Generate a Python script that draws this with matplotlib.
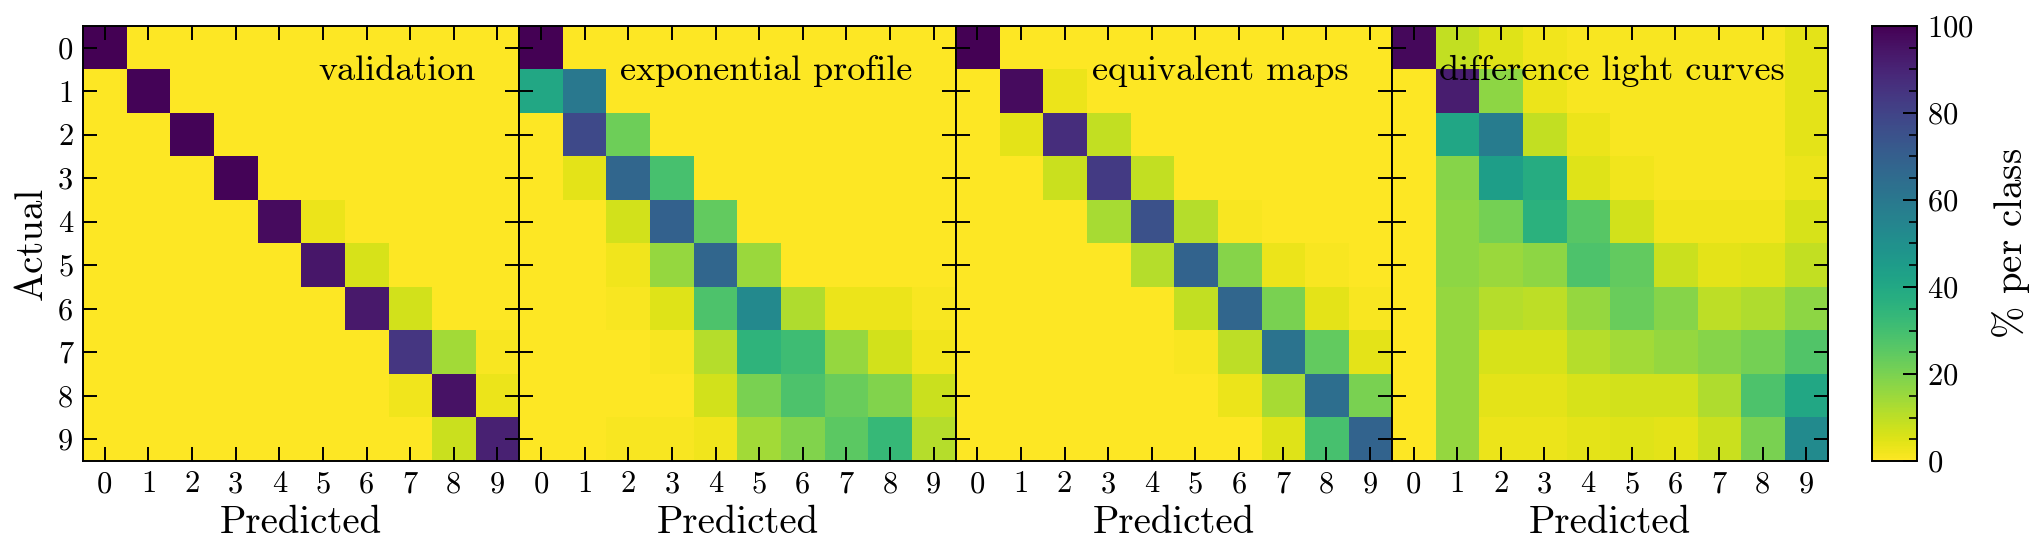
import numpy as np
import matplotlib
matplotlib.use("Agg")
import matplotlib.pyplot as plt
from matplotlib.ticker import MultipleLocator

plt.rcParams['font.family'] = 'serif'
plt.rcParams['font.serif'] = ['cmr10']
plt.rcParams['mathtext.fontset'] = 'cm'
plt.rcParams['axes.formatter.use_mathtext'] = True

classes = [str(i) for i in range(10)]
titles = ["validation", "exponential profile", "equivalent maps", "difference light curves"]

validation = [
    [100, 0, 0, 0, 0, 0, 0, 0, 0, 0],
    [0, 99, 0, 0, 0, 0, 0, 0, 0, 0],
    [0, 0, 99, 0, 0, 0, 0, 0, 0, 0],
    [0, 0, 0, 99, 0, 0, 0, 0, 0, 0],
    [0, 0, 0, 0, 97, 3, 0, 0, 0, 0],
    [0, 0, 0, 0, 0, 94, 6, 0, 0, 0],
    [0, 0, 0, 0, 0, 0, 93, 7, 0, 0],
    [0, 0, 0, 0, 0, 0, 0, 84, 14, 1],
    [0, 0, 0, 0, 0, 0, 0, 2, 95, 3],
    [0, 0, 0, 0, 0, 0, 0, 0, 8, 91],
]

exponential = [
    [100, 0, 0, 0, 0, 0, 0, 0, 0, 0],
    [40, 60, 0, 0, 0, 0, 0, 0, 0, 0],
    [0, 78, 22, 0, 0, 0, 0, 0, 0, 0],
    [0, 4, 67, 29, 0, 0, 0, 0, 0, 0],
    [0, 0, 7, 69, 24, 0, 0, 0, 0, 0],
    [0, 0, 2, 16, 67, 15, 0, 0, 0, 0],
    [0, 0, 1, 5, 28, 53, 12, 3, 3, 1],
    [0, 0, 0, 1, 11, 35, 31, 16, 7, 2],
    [0, 0, 0, 0, 7, 20, 28, 23, 19, 8],
    [0, 0, 1, 1, 2, 14, 19, 25, 33, 11],
]

equivalent = [
    [100, 0, 0, 0, 0, 0, 0, 0, 0, 0],
    [0, 97, 3, 0, 0, 0, 0, 0, 0, 0],
    [0, 4, 87, 9, 0, 0, 0, 0, 0, 0],
    [0, 0, 8, 83, 9, 0, 0, 0, 0, 0],
    [0, 0, 0, 13, 75, 11, 1, 0, 0, 0],
    [0, 0, 0, 0, 11, 68, 18, 3, 1, 0],
    [0, 0, 0, 0, 0, 9, 67, 20, 4, 1],
    [0, 0, 0, 0, 0, 1, 10, 62, 24, 4],
    [0, 0, 0, 0, 0, 0, 3, 13, 64, 20],
    [0, 0, 0, 0, 0, 0, 0, 5, 29, 68],
]

difference = [
    [98, 9, 5, 2, 1, 1, 1, 1, 1, 4],
    [0, 92, 17, 3, 1, 1, 1, 1, 1, 4],
    [0, 41, 58, 9, 3, 1, 1, 1, 1, 4],
    [0, 18, 44, 38, 5, 2, 1, 1, 1, 3],
    [0, 17, 21, 36, 26, 7, 2, 2, 2, 6],
    [0, 17, 15, 17, 28, 24, 8, 4, 5, 9],
    [0, 16, 11, 10, 16, 23, 18, 10, 12, 17],
    [0, 16, 6, 6, 11, 14, 16, 18, 21, 27],
    [0, 16, 4, 4, 6, 7, 7, 12, 28, 40],
    [0, 16, 3, 3, 4, 5, 4, 8, 20, 52],
]

matrices = [validation, exponential, equivalent, difference]

fig = plt.figure(figsize=(20.37, 5.60), dpi=100)
W, H = 2037.0, 560.0
left_px, right_px, top_px, bot_px = 83, 1828, 26, 461
pw = (right_px - left_px) / 4.0

ims = []
for k, (mat, title) in enumerate(zip(matrices, titles)):
    ax = fig.add_axes([(left_px + k * pw) / W, 1 - bot_px / H, pw / W, (bot_px - top_px) / H])
    im = ax.imshow(np.array(mat, dtype=float), cmap='viridis_r', vmin=0, vmax=100,
                   aspect='auto', interpolation='nearest')
    ims.append(im)
    ax.set_xticks(range(10))
    ax.set_yticks(range(10))
    ax.set_xticklabels(classes)
    if k == 0:
        ax.set_yticklabels(classes)
        ax.set_ylabel("Actual", fontsize=28, labelpad=6)
    else:
        ax.set_yticklabels([])
    ax.tick_params(direction='in', length=10, width=1.4, top=True, right=True,
                   labelsize=22, pad=7)
    ax.set_xlabel("Predicted", fontsize=28, labelpad=5)
    for s in ax.spines.values():
        s.set_linewidth(1.4)
    ax.text(0.9, 0.876, title, transform=ax.transAxes, ha='right', va='baseline',
            fontsize=26)

cax = fig.add_axes([1872 / W, 1 - bot_px / H, 45 / W, (bot_px - top_px) / H])
cb = fig.colorbar(ims[0], cax=cax)
cb.set_ticks([0, 20, 40, 60, 80, 100])
cax.yaxis.set_minor_locator(MultipleLocator(5))
cax.tick_params(which='major', direction='in', length=10, width=1.4, labelsize=22, pad=7)
cax.tick_params(which='minor', direction='in', length=6, width=1.2)
cb.outline.set_linewidth(1.4)
cb.set_label(r"$\%$ per class", fontsize=28, labelpad=12)

fig.savefig("out.png", dpi=100)
